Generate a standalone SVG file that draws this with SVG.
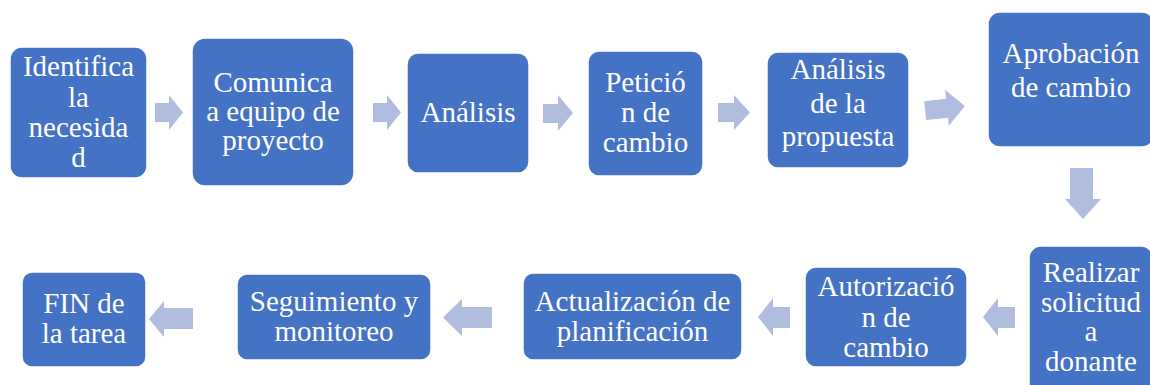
<svg xmlns="http://www.w3.org/2000/svg" width="1150" height="385" viewBox="0 0 1150 385">
<style>
.box{fill:#4472C4;stroke:#FFFFFF;stroke-width:1.5}
.t{fill:#FFFFFF;font-family:"Liberation Serif",serif;font-size:29px;text-anchor:middle}
.arr{fill:#B0BDDF}
</style>
<rect width="1150" height="385" fill="#FFFFFF"/>
<g id="connectors">
<polygon class="arr" points="155,103 169,103 169,95 183,112.5 169,130 169,122 155,122"/>
<polygon class="arr" points="373,103 387,103 387,95 401,112.5 387,130 387,122 373,122"/>
<polygon class="arr" points="543,104 558,104 558,95 573,113 558,131 558,123 543,123"/>
<polygon class="arr" points="718,103 734,103 734,95 750,112.5 734,130 734,122 718,122"/>
<polygon class="arr" points="925,99 947,99 947,90 965,108 947,126 947,118 925,118" transform="rotate(-6 945 108)"/>
<polygon class="arr" points="1070,168 1093,168 1093,199 1101,199 1083,219 1065,199 1070,199"/>
<polygon class="arr" points="193,308 164,308 164,301 149,319 164,337 164,329 193,329"/>
<polygon class="arr" points="492,307 462,307 462,299 443,317.5 462,336 462,328 492,328"/>
<polygon class="arr" points="790,307 773,307 773,298 758,317 773,336 773,328 790,328"/>
<polygon class="arr" points="1015,307 998,307 998,298 983,317 998,336 998,328 1015,328"/>
</g>
<g id="n1"><rect class="box" x="10" y="47" width="137" height="131" rx="12"/>
<text class="t" font-family="Liberation Serif"><tspan x="78.5" y="76">Identifica</tspan><tspan x="78.5" y="107">la</tspan><tspan x="78.5" y="137">necesida</tspan><tspan x="78.5" y="167">d</tspan></text></g>
<g id="n2"><rect class="box" x="192" y="38" width="162" height="148" rx="13"/>
<text class="t" font-family="Liberation Serif"><tspan x="273" y="92">Comunica</tspan><tspan x="273" y="121">a equipo de</tspan><tspan x="273" y="150">proyecto</tspan></text></g>
<g id="n3"><rect class="box" x="407" y="53" width="122" height="120" rx="11"/>
<text class="t" font-family="Liberation Serif" x="468" y="122">Análisis</text></g>
<g id="n4"><rect class="box" x="588" y="51" width="115" height="125" rx="11"/>
<text class="t" font-family="Liberation Serif"><tspan x="645.5" y="92">Petició</tspan><tspan x="645.5" y="122">n de</tspan><tspan x="645.5" y="152">cambio</tspan></text></g>
<g id="n5"><rect class="box" x="767" y="52" width="142" height="116" rx="11"/>
<text class="t" font-family="Liberation Serif"><tspan x="838" y="79">Análisis</tspan><tspan x="838" y="113">de la</tspan><tspan x="838" y="146">propuesta</tspan></text></g>
<g id="n6"><rect class="box" x="988" y="12" width="166" height="135" rx="12"/>
<text class="t" font-family="Liberation Serif"><tspan x="1071" y="63">Aprobación</tspan><tspan x="1071" y="97">de cambio</tspan></text></g>
<g id="n7"><rect class="box" x="1029" y="246" width="124" height="160" rx="12"/>
<text class="t" font-family="Liberation Serif"><tspan x="1091" y="282">Realizar</tspan><tspan x="1091" y="312">solicitud</tspan><tspan x="1091" y="341">a</tspan><tspan x="1091" y="371">donante</tspan></text></g>
<g id="n8"><rect class="box" x="805" y="267" width="162" height="100" rx="11"/>
<text class="t" font-family="Liberation Serif"><tspan x="886" y="296">Autorizació</tspan><tspan x="886" y="327">n de</tspan><tspan x="886" y="357">cambio</tspan></text></g>
<g id="n9"><rect class="box" x="523" y="273" width="219" height="87" rx="10"/>
<text class="t" font-family="Liberation Serif"><tspan x="632.5" y="311">Actualización de</tspan><tspan x="632.5" y="341">planificación</tspan></text></g>
<g id="n10"><rect class="box" x="237" y="274" width="194" height="86" rx="10"/>
<text class="t" font-family="Liberation Serif"><tspan x="334" y="311">Seguimiento y</tspan><tspan x="334" y="341">monitoreo</tspan></text></g>
<g id="n11"><rect class="box" x="22" y="272" width="124" height="95" rx="10"/>
<text class="t" font-family="Liberation Serif"><tspan x="84" y="313">FIN de</tspan><tspan x="84" y="343">la tarea</tspan></text></g>
</svg>
